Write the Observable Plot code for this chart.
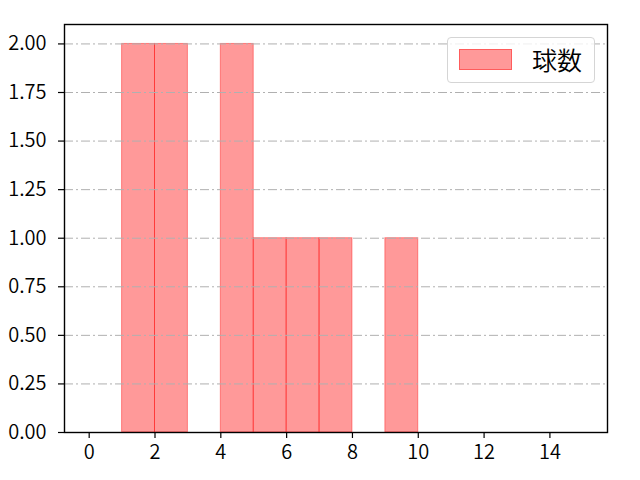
<!DOCTYPE html>
<html>
<head>
<meta charset="utf-8">
<script src="https://cdn.jsdelivr.net/npm/d3@7"></script>
<script src="https://cdn.jsdelivr.net/npm/@observablehq/plot@0.6"></script>
<style>
  body { margin: 0; background: #fff; }
  #wrap { position: relative; width: 640px; height: 480px; font-family: "Noto Sans CJK JP", "Noto Sans", sans-serif; }
  #wrap svg text { font-size: 20px; font-weight: 350; font-family: "Noto Sans CJK JP", "Noto Sans", sans-serif; }
  #legend { position: absolute; left: 447px; top: 37px; width: 148px; height: 46px; box-sizing: border-box;
    border: 1px solid #d5d5d5; border-radius: 4px; background: rgba(255,255,255,0.8); }
  #legend .patch { position: absolute; left: 11px; top: 11px; width: 53px; height: 21px; box-sizing: border-box;
    background: rgba(255,0,0,0.4); border: 1px solid rgba(255,0,0,0.4); }
  #legend .lab { position: absolute; left: 84px; top: 5px; font-size: 25px; font-weight: 350; line-height: 32px; color: #000; }
</style>
</head>
<body>
<div id="wrap"></div>
<script>
const binStarts = [1, 2, 4, 5, 6, 7, 9];
const binWidth = 1;
const counts = [2, 2, 2, 1, 1, 1, 1];
const seriesName = "球数";
const xTicks = [0, 2, 4, 6, 8, 10, 12, 14];
const yTicks = [0, 0.25, 0.5, 0.75, 1.0, 1.25, 1.5, 1.75, 2.0];

const bars = binStarts.map((s, i) => ({x1: s, x2: s + binWidth, y: counts[i]}));

const chart = Plot.plot({
  width: 640,
  height: 480,
  marginLeft: 64,
  marginRight: 33,
  marginTop: 24,
  marginBottom: 48,
  style: {fontFamily: "'Noto Sans CJK JP', 'Noto Sans', sans-serif", fontSize: "20px", color: "#000", background: "#fff"},
  x: {domain: [-0.75, 15.75], label: null},
  y: {domain: [0, 2.1], label: null},
  marks: [
    Plot.rectY(bars, {x1: "x1", x2: "x2", y: "y", fill: "red", fillOpacity: 0.4, stroke: "red", strokeOpacity: 0.4, strokeWidth: 1}),
    Plot.ruleY(yTicks, {stroke: "#b0b0b0", strokeWidth: 1, strokeDasharray: "9,3,2,3"}),
    Plot.axisX({ticks: xTicks, tickSize: 6, tickPadding: 6, tickFormat: d => String(d), label: null, stroke: "#000", strokeWidth: 1.2}),
    Plot.axisY({ticks: yTicks, tickSize: 6, tickPadding: 12, tickFormat: d => d.toFixed(2), label: null, stroke: "#000", strokeWidth: 1.2}),
    Plot.frame({stroke: "#000", strokeWidth: 1.4})
  ]
});
chart.querySelectorAll("text").forEach(t => t.setAttribute("fill", "#000"));
const wrap = document.getElementById("wrap");
wrap.appendChild(chart);
const legend = document.createElement("div");
legend.id = "legend";
legend.innerHTML = `<div class="patch"></div><div class="lab">${seriesName}</div>`;
wrap.appendChild(legend);
</script>
</body>
</html>
